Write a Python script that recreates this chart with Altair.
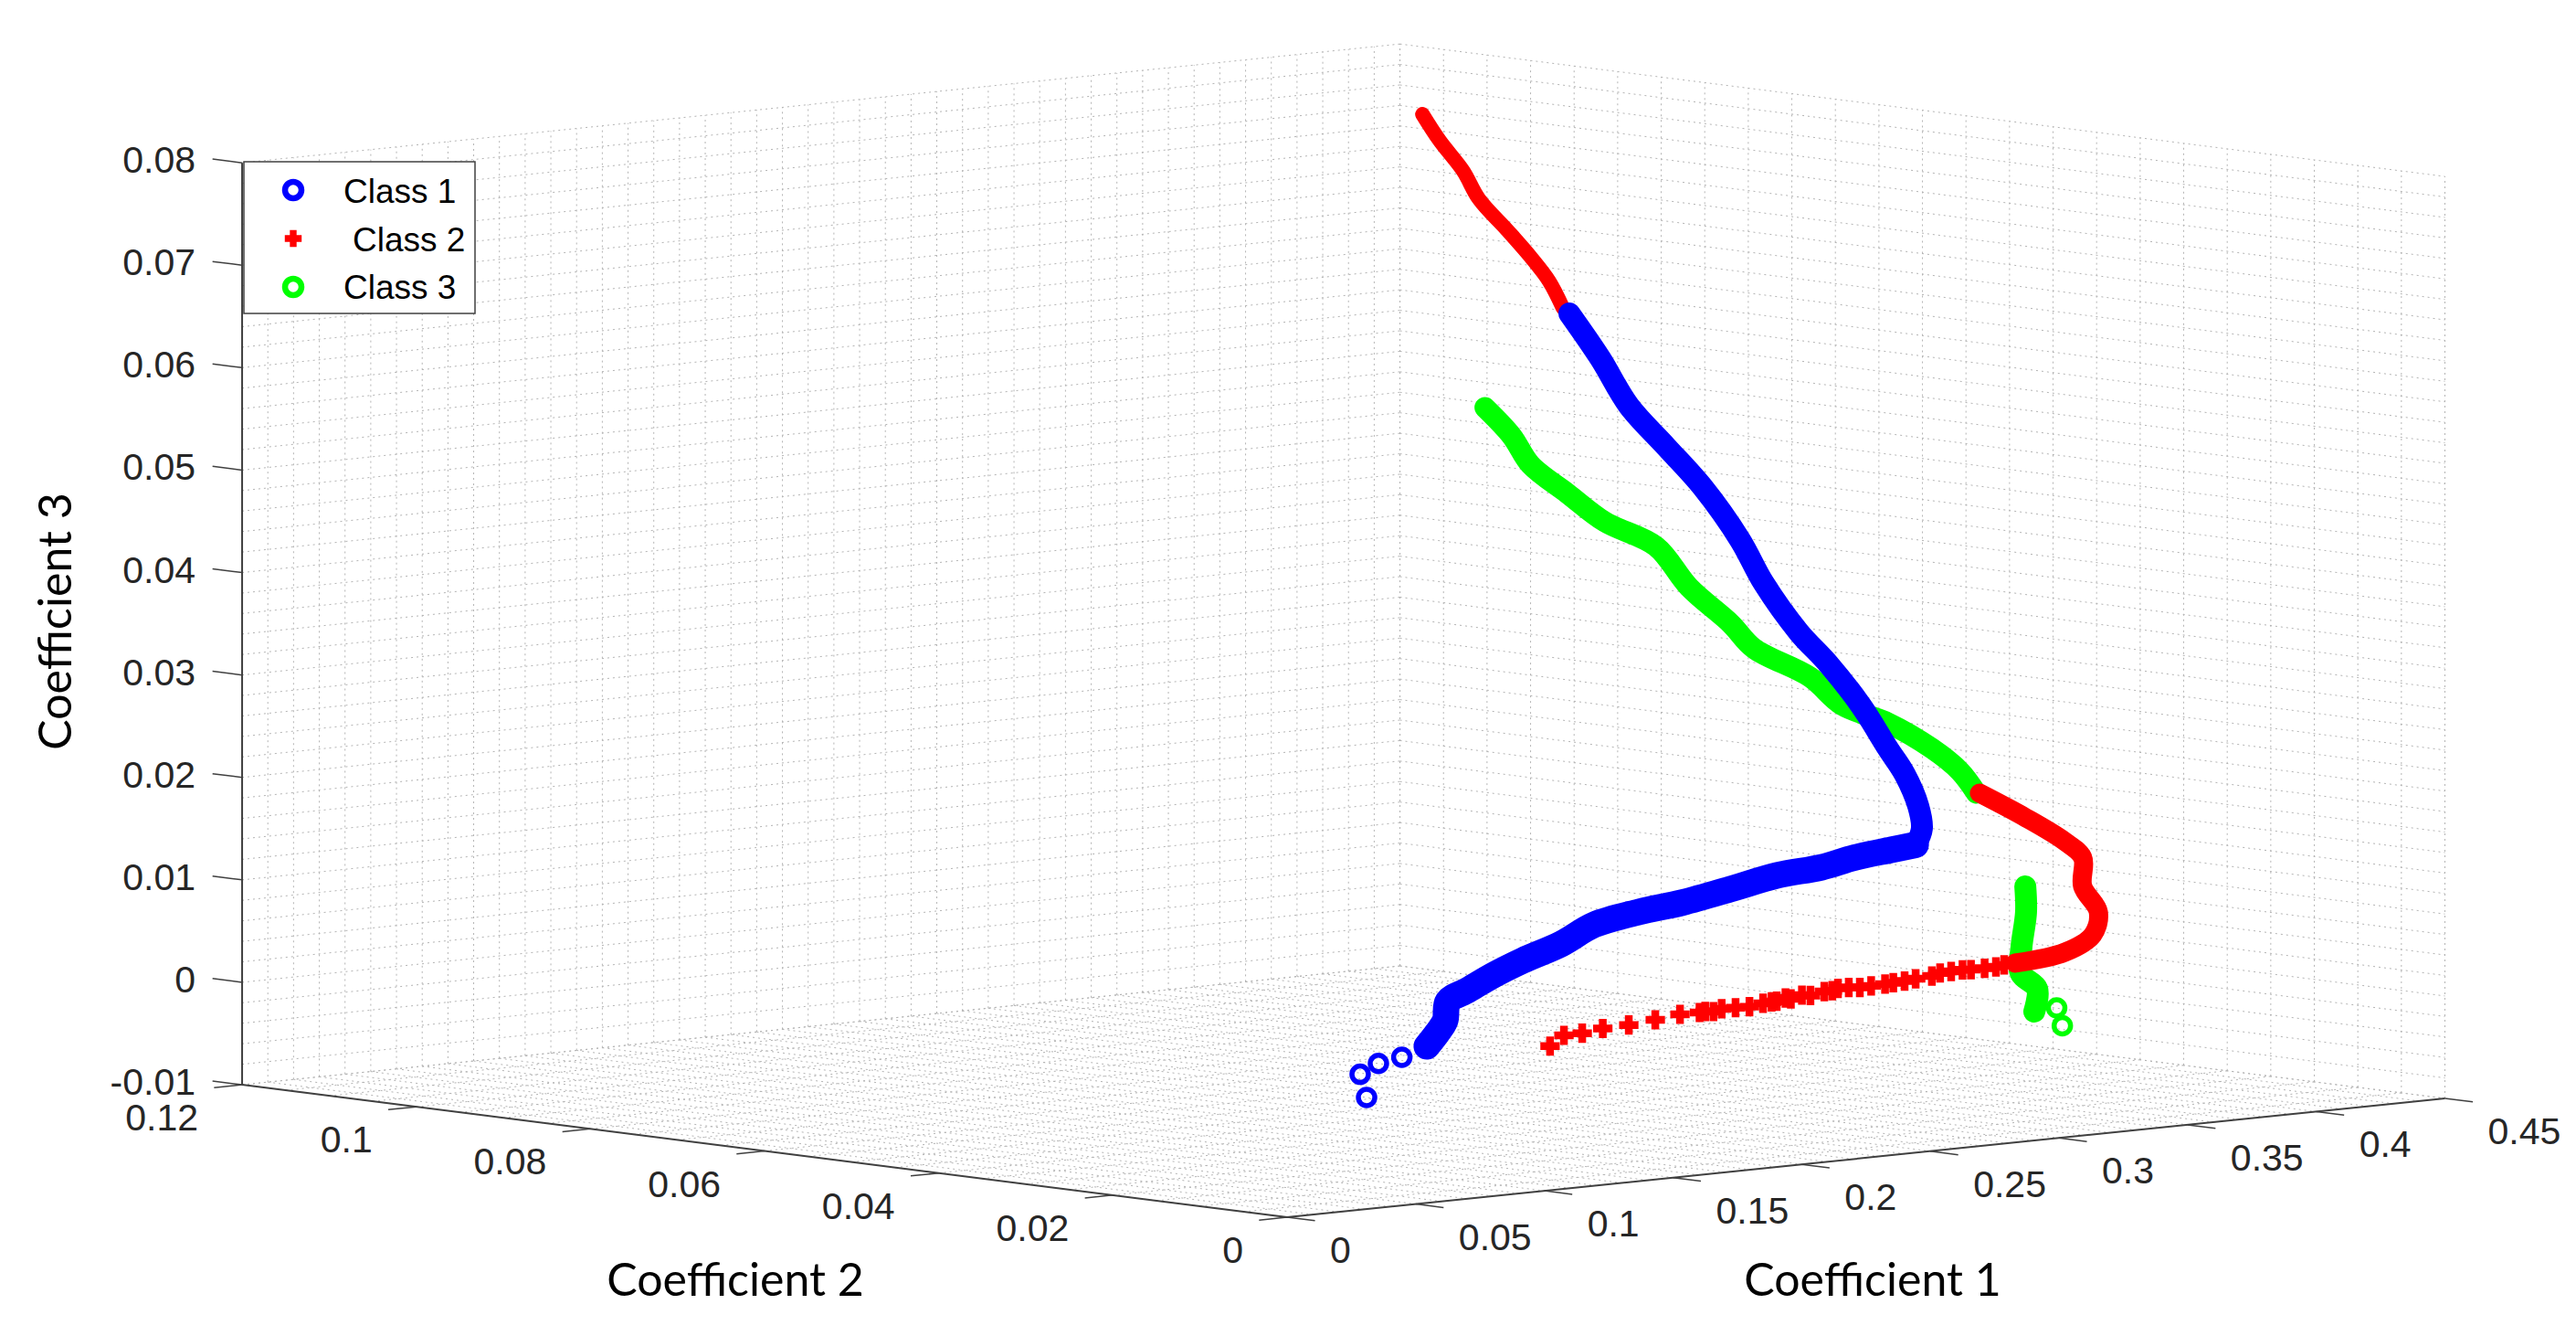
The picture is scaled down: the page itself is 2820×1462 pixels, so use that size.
import altair as alt
import pandas as pd

# Values, as (coefficient 1, coefficient 2, coefficient 3)
class1_upper_c1 = [.1097,.1218,.1328,.1472,.1615,.1761,.1852,.1988,.2105,.2230,.2335,.2400,.2453,.2467,.2443]
class1_upper_c3 = [.0754,.07067,.06579,.06145,.05711,.05156,.04714,.04201,.03855,.03421,.02974,.02708,.02382,.02155,.02005]
class1_lower_c1 = [.2443,.2347,.2205,.2077,.1905,.1733,.1537,.1367,.1193,.1065,.0916,.0806,.0699,.0625,.0614,.0582,.0543]
class1_lower_c3 = [.02005,.01981,.01942,.01881,.01846,.01764,.01676,.01627,.01547,.01393,.01270,.01161,.01032,.00944,.00760,.00643,.00528]
class1_ring_c1 = [.0538,.0446,.0355,.0284,.0309]
class1_ring_c3 = [.00525,.00446,.00409,.00322,.00089]

class2_top_c1 = [.3572,.3639,.3730,.3792,.3902,.3992,.4065,.4118]
class2_top_c2 = 0.09
class2_top_c3 = [.07877,.07601,.07284,.06991,.06659,.06377,.06118,.05845]
class2_mid_c1 = [.2691,.2872,.3023,.3092,.3092,.3153,.3131,.3023,.2830]
class2_mid_c3 = [.02446,.02158,.01888,.01714,.01433,.01167,.00949,.00808,.00751]
class2_plus_c1 = [.1022,.1076,.1147,.1227,.1328,.1431,.1527,.1603,.1625,.1657,.1689,.1743,.1797,.1850,.1883,.1903,.1937,.1958,.2001,.2034,.2088,.2119,.2141,.2183,.2226,.2270,.2324,.2356,.2400,.2443,.2506,.2538,.2581,.2625,.2658,.2711,.2755,.2787]
class2_plus_c3 = [.00407,.00498,.00500,.00526,.00534,.00558,.00587,.00585,.00590,.00580,.00599,.00596,.00592,.00611,.00616,.00618,.00640,.00627,.00652,.00640,.00665,.00665,.00682,.00680,.00669,.00673,.00676,.00682,.00687,.00698,.00709,.00730,.00734,.00738,.00732,.00732,.00734,.00744]

class3_upper_c1 = [.0769,.0873,.0946,.1090,.1235,.1434,.1562,.1725,.1814,.2033,.2159,.2335,.2506,.2615,.2679]
class3_upper_c3 = [.06706,.06402,.06102,.05784,.05470,.05178,.04748,.04348,.04086,.03748,.03439,.03224,.02930,.02680,.02449]
class3_lower_c1 = [.2869,.2872,.2854,.2851,.2915,.2904]
class3_lower_c3 = [.01490,.01239,.00896,.00647,.00479,.00259]
class3_ring_c1 = [.2991,.3013]
class3_ring_c3 = [.00272,.00092]

c1_ticks = [0, .05, .1, .15, .2, .25, .3, .35, .4, .45]
c1_labels = ["0", "0.05", "0.1", "0.15", "0.2", "0.25", "0.3", "0.35", "0.4", "0.45"]
c2_ticks = [0, .02, .04, .06, .08, .1, .12]
c2_labels = ["0", "0.02", "0.04", "0.06", "0.08", "0.1", "0.12"]
c3_ticks = [-.01, 0, .01, .02, .03, .04, .05, .06, .07, .08]
c3_labels = ["-0.01", "0", "0.01", "0.02", "0.03", "0.04", "0.05", "0.06", "0.07", "0.08"]
class_names = ["Class 1", "Class 2", "Class 3"]
BLUE, RED, GREEN = "#0000ff", "#ff0000", "#00ff00"
C1MAX, C2MAX, C3MIN, C3MAX = .45, .12, -.01, .08


def sx(a, b):
    return 1409 + 2816.7 * a - 9533 * b


def sy(a, b, c):
    return 1332 - 288.9 * a - 1208 * b - 11210 * (c + .01)


X = alt.X("x:Q", scale=alt.Scale(domain=[8, 2808]), axis=None)
Y = alt.Y("y:Q", scale=alt.Scale(domain=[1448, 8]), axis=None)


def segments(items):
    rows = []
    for k, (p, q) in enumerate(items):
        for end in (p, q):
            rows.append({"id": k, "x": sx(end[0], end[1]), "y": sy(*end)})
    return pd.DataFrame(rows)


def seg_layer(items, **mark):
    return alt.Chart(segments(items)).mark_line(**mark).encode(x=X, y=Y, detail="id:N")


def pts(c1, c3, c2=0.0):
    return pd.DataFrame({"i": range(len(c1)),
                         "x": [sx(a, c2) for a in c1],
                         "y": [sy(a, c2, c) for a, c in zip(c1, c3)]})


def band(c1, c3, color, width, c2=0.0):
    return alt.Chart(pts(c1, c3, c2)).mark_line(color=color, strokeWidth=width, strokeCap="round",
                                                strokeJoin="round", interpolate="catmull-rom"
                                                ).encode(x=X, y=Y, order="i:Q")


def rings(c1, c3, color):
    return alt.Chart(pts(c1, c3)).mark_point(shape="circle", filled=False, color=color, size=324,
                                             strokeWidth=5.5, opacity=1).encode(x=X, y=Y)


# grid: minor and major divisions on the two walls and the floor
n1 = [i / 100 for i in range(0, 46)]
n2 = [i * .005 for i in range(0, 25)]
n3 = [-.01 + i * .002 for i in range(0, 46)]
grid = []
for a in n1:
    grid.append(((a, C2MAX, C3MIN), (a, C2MAX, C3MAX)))
    grid.append(((a, 0, C3MIN), (a, C2MAX, C3MIN)))
for b in n2:
    grid.append(((C1MAX, b, C3MIN), (C1MAX, b, C3MAX)))
    grid.append(((0, b, C3MIN), (C1MAX, b, C3MIN)))
for c in n3:
    grid.append(((0, C2MAX, c), (C1MAX, C2MAX, c)))
    grid.append(((C1MAX, 0, c), (C1MAX, C2MAX, c)))
grid_layer = seg_layer(grid, color="#b4b4b4", strokeWidth=1, strokeDash=[2, 4])

edges = [((0, C2MAX, C3MIN), (0, C2MAX, C3MAX)),
         ((0, 0, C3MIN), (0, C2MAX, C3MIN)),
         ((0, 0, C3MIN), (C1MAX, 0, C3MIN))]
edge_layer = seg_layer(edges, color="#404040", strokeWidth=2)

ticks = []
for c in c3_ticks:
    ticks.append(((0, C2MAX, c), (0, C2MAX + .0034, c)))
for b in c2_ticks:
    ticks.append(((0, b, C3MIN), (-.0109, b, C3MIN)))
for a in c1_ticks:
    ticks.append(((a, 0, C3MIN), (a, -.0032, C3MIN)))
tick_layer = seg_layer(ticks, color="#404040", strokeWidth=1.5)

FONT = "Liberation Sans"
TICK = 41
z_df = pd.DataFrame({"x": [sx(0, C2MAX) - 51] * len(c3_ticks),
                     "y": [sy(0, C2MAX, c) - 1 for c in c3_ticks], "t": c3_labels})
b_df = pd.DataFrame({"x": [sx(0, b) - 48 for b in c2_ticks],
                     "y": [sy(0, b, C3MIN) + 38 for b in c2_ticks], "t": c2_labels})
a_df = pd.DataFrame({"x": [sx(a, 0) + 47 for a in c1_ticks],
                     "y": [sy(a, 0, C3MIN) + 38 for a in c1_ticks], "t": c1_labels})


def labels(df, align):
    return alt.Chart(df).mark_text(font=FONT, fontSize=TICK, align=align, baseline="middle",
                                   color="#262626").encode(x=X, y=Y, text="t:N")


titles = pd.DataFrame({"x": [2050, 805], "y": [1403, 1403], "t": ["Coefficient 1", "Coefficient 2"]})
title_layer = alt.Chart(titles).mark_text(font="Lato", fontSize=50, align="center", baseline="middle",
                                          color="#000000").encode(x=X, y=Y, text="t:N")
title3 = alt.Chart(pd.DataFrame({"x": [63], "y": [680], "t": ["Coefficient 3"]})).mark_text(
    font="Lato", fontSize=50, align="center", baseline="middle", angle=270, color="#000000"
).encode(x=X, y=Y, text="t:N")

# legend
box = alt.Chart(pd.DataFrame({"x": [267], "x2": [520], "y": [177], "y2": [343]})).mark_rect(
    fill="#ffffff", stroke="#404040", strokeWidth=1.5
).encode(x=X, x2="x2:Q", y=Y, y2="y2:Q")
leg_text = alt.Chart(pd.DataFrame({"x": [376, 386, 376], "y": [211, 264, 316], "t": class_names})).mark_text(
    font=FONT, fontSize=37, align="left", baseline="middle", color="#000000"
).encode(x=X, y=Y, text="t:N")
leg_1 = alt.Chart(pd.DataFrame({"x": [321], "y": [208]})).mark_point(
    shape="circle", filled=False, color=BLUE, size=324, strokeWidth=6.5, opacity=1).encode(x=X, y=Y)
leg_3 = alt.Chart(pd.DataFrame({"x": [321], "y": [314]})).mark_point(
    shape="circle", filled=False, color=GREEN, size=324, strokeWidth=6.5, opacity=1).encode(x=X, y=Y)
leg_2 = alt.Chart(pd.DataFrame({"x": [321], "y": [261]})).mark_point(
    shape="cross", filled=True, color=RED, size=340, opacity=1).encode(x=X, y=Y)

plus = alt.Chart(pts(class2_plus_c1, class2_plus_c3)).mark_point(
    shape="cross", filled=True, color=RED, size=450, opacity=1).encode(x=X, y=Y)

chart = alt.layer(
    grid_layer, edge_layer, tick_layer,
    labels(z_df, "right"), labels(b_df, "right"), labels(a_df, "left"),
    title_layer, title3,
    band(class3_upper_c1, class3_upper_c3, GREEN, 23),
    band(class3_lower_c1, class3_lower_c3, GREEN, 24),
    rings(class3_ring_c1, class3_ring_c3, GREEN),
    band(class2_top_c1, class2_top_c3, RED, 16, class2_top_c2),
    band(class2_mid_c1, class2_mid_c3, RED, 21),
    plus,
    band(class1_upper_c1, class1_upper_c3, BLUE, 24),
    band(class1_lower_c1, class1_lower_c3, BLUE, 29),
    rings(class1_ring_c1, class1_ring_c3, BLUE),
    box, leg_text, leg_1, leg_2, leg_3,
).properties(width=2800, height=1440, padding=0,
             autosize=alt.AutoSizeParams(type="none")).configure_view(stroke=None)

chart.save("out.html", embed_options={"renderer": "svg", "actions": False})
